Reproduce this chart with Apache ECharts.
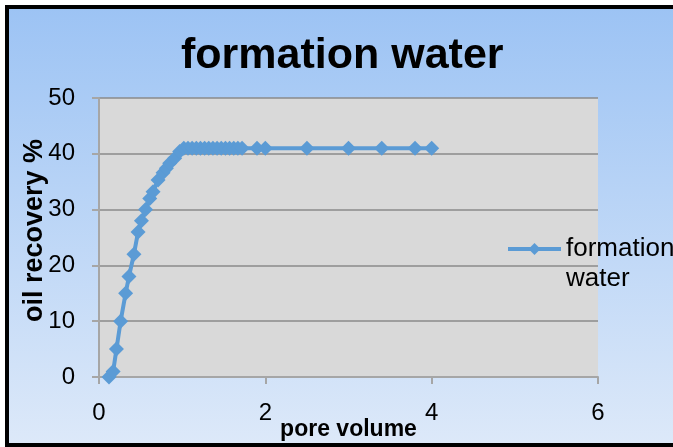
<!DOCTYPE html>
<html>
<head>
<meta charset="utf-8">
<script src="https://cdn.jsdelivr.net/npm/echarts@6/dist/echarts.min.js"></script>
<style>
  html, body { margin: 0; padding: 0; background: #ffffff; }
  #chart { width: 673px; height: 447px; }
</style>
</head>
<body>
<div id="chart"></div>
<script>
// ---- data ----
var poreVolume = [0.12, 0.17, 0.21, 0.26, 0.32, 0.36, 0.42, 0.47, 0.51, 0.56, 0.61, 0.65, 0.71, 0.77, 0.81, 0.85, 0.91, 0.97,
  1.02, 1.07, 1.12, 1.17, 1.22, 1.27, 1.32, 1.37, 1.42, 1.47, 1.52, 1.57, 1.62, 1.67, 1.72,
  1.9, 2.0, 2.5, 3.0, 3.4, 3.8, 4.0];
var oilRecovery = [0, 1, 5, 10, 15, 18, 22, 26, 28, 30, 32, 33.2, 35.3, 36.6, 37.4, 38.3, 39.2, 40.4,
  41, 41, 41, 41, 41, 41, 41, 41, 41, 41, 41, 41, 41, 41, 41,
  41, 41, 41, 41, 41, 41, 41];
var seriesName = 'formation water';
var chartTitle = 'formation water';
var xAxisName = 'pore volume';
var yAxisName = 'oil recovery %';

var seriesData = poreVolume.map(function (x, i) { return [x, oilRecovery[i]]; });

var chart = echarts.init(document.getElementById('chart'), null, { renderer: 'canvas' });
var FONT = '"Liberation Sans", Arial, sans-serif';
var option = {
  animation: false,
  backgroundColor: '#ffffff',
  graphic: [{
    type: 'rect',
    z: -10,
    silent: true,
    shape: { x: 7, y: 7, width: 720, height: 438 },
    style: {
      fill: { type: 'linear', x: 0, y: 0, x2: 0, y2: 1, colorStops: [
        { offset: 0, color: '#9cc3f4' }, { offset: 1, color: '#dde9f9' } ] },
      stroke: '#000000',
      lineWidth: 4
    }
  }],
  title: {
    text: chartTitle,
    left: 181,
    top: 35,
    padding: 0,
    textStyle: { fontFamily: FONT, fontSize: 43, fontWeight: 'bold', color: '#000000' }
  },
  legend: {
    left: 506,
    top: 204,
    padding: 0,
    itemWidth: 53,
    itemHeight: 15,
    itemGap: 5,
    lineStyle: { width: 4 },
    formatter: function (n) { return '\n' + n.replace(' ', '\n'); },
    textStyle: { fontFamily: FONT, fontSize: 26, color: '#000000', lineHeight: 30 }
  },
  grid: {
    left: 99, right: 75, top: 98, bottom: 70,
    outerBoundsMode: 'none',
    containLabel: false,
    show: true, backgroundColor: '#d9d9d9', borderWidth: 0
  },
  xAxis: {
    type: 'value', min: 0, max: 6, interval: 2,
    name: xAxisName, nameLocation: 'middle', nameGap: 41, nameMoveOverlap: false,
    nameTextStyle: { fontFamily: FONT, fontSize: 23, fontWeight: 'bold', color: '#000000' },
    axisLine: { show: true, lineStyle: { color: '#a6a6a6', width: 2 } },
    axisTick: { show: true, length: 7, lineStyle: { color: '#a6a6a6', width: 2 } },
    axisLabel: { margin: 24, fontFamily: FONT, fontSize: 24, color: '#000000' },
    splitLine: { show: false }
  },
  yAxis: {
    type: 'value', min: 0, max: 50, interval: 10,
    name: yAxisName, nameLocation: 'middle', nameGap: 51, nameRotate: 90, nameMoveOverlap: false,
    nameTextStyle: { fontFamily: FONT, fontSize: 27, fontWeight: 'bold', color: '#000000', padding: [0, 0, 0, 14] },
    axisLine: { show: true, lineStyle: { color: '#a6a6a6', width: 2 } },
    axisTick: { show: true, length: 7, lineStyle: { color: '#a6a6a6', width: 2 } },
    axisLabel: { margin: 24, fontFamily: FONT, fontSize: 24, color: '#000000' },
    splitLine: { show: true, lineStyle: { color: '#8a8a8a', width: 1.5 } }
  },
  series: [{
    name: seriesName,
    type: 'line',
    data: seriesData,
    symbol: 'diamond',
    symbolSize: 15,
    color: '#5b9bd5',
    lineStyle: { color: '#5b9bd5', width: 4 },
    itemStyle: { color: '#5b9bd5' }
  }]
};
chart.setOption(option);
</script>
</body>
</html>
